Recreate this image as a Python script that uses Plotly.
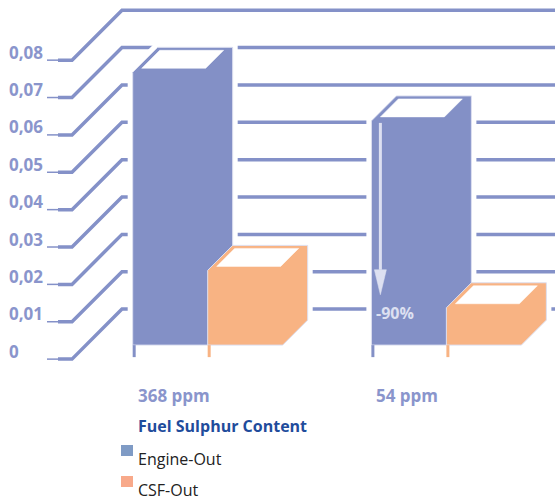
import plotly.graph_objects as go
import numpy as np

# ---------------- data ----------------
categories = ["368 ppm", "54 ppm"]
engine_out = [0.073, 0.060]
csf_out = [0.020, 0.010]
series_names = ["Engine-Out", "CSF-Out"]
tick_values = [0, 0.01, 0.02, 0.03, 0.04, 0.05, 0.06, 0.07, 0.08]
tick_labels = ["0", "0,01", "0,02", "0,03", "0,04", "0,05", "0,06", "0,07", "0,08"]
x_title = "Fuel Sulphur Content"
reduction_label = "-90%"

# ---------------- style ----------------
W, H = 555, 500
X_RANGE = [-0.870, 1.455]
Y_RANGE = [-0.0377, 0.0961]
UX = (X_RANGE[1] - X_RANGE[0]) / W   # data units per pixel (x)
UY = (Y_RANGE[1] - Y_RANGE[0]) / H   # data units per pixel (y)

GRID = "#8491c8"
BLUE = "#8390c6"
ORANGE = "#f8b383"
EDGE = "#dde0f1"
LABEL = "#8a95cc"
TITLE = "#1f4c9c"
LEG_BLUE = "#7f9bc5"
LEG_ORANGE = "#f8a98a"
FONT = "Open Sans"

BAR_W = 75 * UX
BASE = 14 * UY          # bar floor sits 14px deeper than the front ticks
DEPTH = 25              # bar depth in px
WALL = 50               # wall depth in px
FRONT_IN, BACK_IN, LEFT_IN, RIGHT_IN = 4, 3, 5, 6

x_thin = X_RANGE[0] + 47 * UX
x_thick = X_RANGE[0] + 58 * UX
x_front = X_RANGE[0] + 72 * UX

fig = go.Figure()

# gridlines: front tick, diagonal, back wall line
thin_x, thin_y, thick_x, thick_y = [], [], [], []
for v in tick_values:
    thin_x += [x_thin, x_front, None]
    thin_y += [v, v, None]
    thick_x += [x_thick, x_front, x_front + WALL * UX, X_RANGE[1], None]
    thick_y += [v, v, v + WALL * UY, v + WALL * UY, None]
fig.add_trace(go.Scatter(x=thin_x, y=thin_y, mode="lines",
                         line=dict(color=GRID, width=1.5), hoverinfo="skip"))
fig.add_trace(go.Scatter(x=thick_x, y=thick_y, mode="lines",
                         line=dict(color=GRID, width=3.5), hoverinfo="skip"))

positions = np.arange(len(categories))
bars = []
for i, p in enumerate(positions):
    bars.append((p - BAR_W, engine_out[i], BLUE))
    bars.append((p, csf_out[i], ORANGE))


def silhouette(x0, val):
    b = BASE
    t = b + val
    x1 = x0 + BAR_W
    dx, dy = DEPTH * UX, DEPTH * UY
    xs = [x0, x0, x0 + dx, x1 + dx, x1 + dx, x1, x0]
    ys = [b, t, t + dy, t + dy, b + dy, b, b]
    return xs, ys


def top_face(x0, val):
    t = BASE + val
    x1 = x0 + BAR_W
    d1, d2 = FRONT_IN, DEPTH - BACK_IN
    xs = [x0 + (d1 + LEFT_IN) * UX, x1 + (d1 - RIGHT_IN) * UX,
          x1 + (d2 - RIGHT_IN) * UX, x0 + (d2 + LEFT_IN) * UX]
    ys = [t + d1 * UY, t + d1 * UY, t + d2 * UY, t + d2 * UY]
    return xs + xs[:1], ys + ys[:1]


# white halos
for x0, val, col in bars:
    xs, ys = silhouette(x0, val)
    fig.add_trace(go.Scatter(x=xs, y=ys, mode="lines", fill="toself",
                             fillcolor="white", line=dict(color="white", width=10),
                             hoverinfo="skip"))
# bars
for x0, val, col in bars:
    xs, ys = silhouette(x0, val)
    fig.add_trace(go.Scatter(x=xs, y=ys, mode="lines", fill="toself",
                             fillcolor=col, line=dict(color=EDGE, width=1),
                             hoverinfo="skip"))
    xs, ys = top_face(x0, val)
    fig.add_trace(go.Scatter(x=xs, y=ys, mode="lines", fill="toself",
                             fillcolor="white", line=dict(color="white", width=0.5),
                             hoverinfo="skip"))
# stubs
for x0, val, col in bars:
    fig.add_trace(go.Scatter(x=[x0 + 1.5 * UX, x0 + 1.5 * UX], y=[BASE, BASE - 12 * UY],
                             mode="lines", line=dict(color=col, width=3), hoverinfo="skip"))

# reduction arrow on second Engine-Out bar
ax = positions[1] - BAR_W + 9 * UX
a_top = BASE + engine_out[1] - 2 * UY
a_tip = BASE + csf_out[1] + 13 * UY
a_base = a_tip + 25 * UY
fig.add_trace(go.Scatter(x=[ax, ax], y=[a_top, a_base], mode="lines",
                         line=dict(color=EDGE, width=3), hoverinfo="skip"))
fig.add_trace(go.Scatter(x=[ax - 6 * UX, ax + 6 * UX, ax, ax - 6 * UX],
                         y=[a_base, a_base, a_tip, a_base], mode="lines", fill="toself",
                         fillcolor=EDGE, line=dict(color=EDGE, width=0.5), hoverinfo="skip"))

annotations = []
annotations.append(dict(x=positions[1] - BAR_W + 3 * UX, y=BASE + csf_out[1] - 5 * UY,
                        xref="x", yref="y", text="<b>%s</b>" % reduction_label,
                        showarrow=False, xanchor="left", yanchor="middle",
                        font=dict(family=FONT, size=16, color=EDGE)))

# y tick labels
for v, lab in zip(tick_values, tick_labels):
    annotations.append(dict(x=7 / W, y=v, xref="paper", yref="y", text="<b>%s</b>" % lab,
                            showarrow=False, xanchor="left", yanchor="middle", yshift=8,
                            font=dict(family=FONT, size=17, color=LABEL)))

# category labels
for p, cat in zip(positions, categories):
    annotations.append(dict(x=p - BAR_W + 3 * UX, y=1 - 395 / H, xref="x", yref="paper",
                            text="<b>%s</b>" % cat, showarrow=False,
                            xanchor="left", yanchor="middle",
                            font=dict(family=FONT, size=17, color=LABEL)))

annotations.append(dict(x=136 / W, y=1 - 426 / H, xref="paper", yref="paper",
                        text="<b>%s</b>" % x_title, showarrow=False,
                        xanchor="left", yanchor="middle",
                        font=dict(family=FONT, size=16, color=TITLE)))

shapes = []
for k, (name, col) in enumerate(zip(series_names, [LEG_BLUE, LEG_ORANGE])):
    top = 445 + 31 * k
    shapes.append(dict(type="rect", xref="paper", yref="paper",
                       x0=121 / W, x1=133 / W, y0=1 - (top + 11) / H, y1=1 - top / H,
                       fillcolor=col, line=dict(width=0)))
    annotations.append(dict(x=136 / W, y=1 - (top + 14) / H, xref="paper", yref="paper",
                            text=name, showarrow=False, xanchor="left", yanchor="middle",
                            font=dict(family=FONT, size=16, color="#222222")))

fig.update_layout(
    width=W, height=H, margin=dict(l=0, r=0, t=0, b=0),
    paper_bgcolor="white", plot_bgcolor="white", showlegend=False,
    xaxis=dict(range=X_RANGE, visible=False, fixedrange=True),
    yaxis=dict(range=Y_RANGE, visible=False, fixedrange=True),
    annotations=annotations, shapes=shapes,
)

fig.write_html("out.html")
